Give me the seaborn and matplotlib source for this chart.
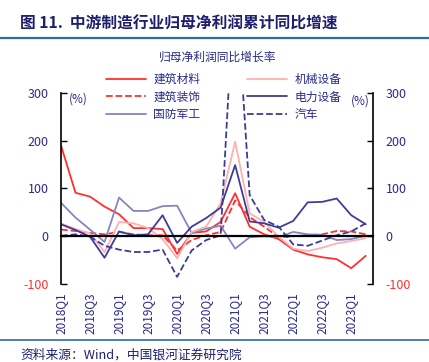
"""
图11 中游制造行业归母净利润累计同比增速 (2018Q1-2023Q2)
"""

import numpy as np
import pandas as pd
import matplotlib
matplotlib.use("Agg")
import matplotlib.pyplot as plt
from matplotlib.lines import Line2D
import seaborn as sns

sns.set_theme(style="white")
plt.rcParams["font.family"] = ["Noto Sans CJK SC", "DejaVu Sans"]
plt.rcParams["axes.unicode_minus"] = False

# Data (%)
quarters = ["2018Q1", "2018Q2", "2018Q3", "2018Q4", "2019Q1", "2019Q2", "2019Q3", "2019Q4",
            "2020Q1", "2020Q2", "2020Q3", "2020Q4", "2021Q1", "2021Q2", "2021Q3", "2021Q4",
            "2022Q1", "2022Q2", "2022Q3", "2022Q4", "2023Q1", "2023Q2"]
jzcl = [190, 91, 83, 62, 46, 17, 17, 15, -37, 7, 10, 30, 90, 20, 4, -6, -28, -38, -44, -48, -67, -41]
jxsb = [27, 15, 6, -33, 30, 27, 17, -6, -46, 9, 20, 69, 198, 48, 30, -1, -26, -31, -24, -15, -10, -4]
jzzs = [14, 11, 7, 4, 9, 4, 2, 2, -30, -8, 2, 9, 75, 40, 20, -2, 0, 2, 4, 11, 10, 4]
dlsb = [25, 13, -1, -45, 10, 2, 4, 44, -14, 20, 38, 60, 149, 31, 27, 18, 32, 71, 72, 79, 44, 25]
gfjg = [70, 39, 14, -12, 81, 53, 53, 63, 64, 7, 16, 22, -26, -2, 0, -2, 9, 4, 3, -8, -6, 1]
qc = [1, 4, -1, -20, -28, -33, -33, -28, -85, -30, -8, 2, 555, 86, 34, 20, -17, -20, -9, 2, 10, 27]

yticks = [-100, 0, 100, 200, 300]

NAVY = "#2a2a8c"
RED = "#ff3030"
series = [
    ("建筑材料", jzcl, RED, "-"),
    ("建筑装饰", jzzs, RED, "--"),
    ("国防军工", gfjg, "#8585c2", "-"),
    ("机械设备", jxsb, "#ffb0b0", "-"),
    ("电力设备", dlsb, "#3d3d99", "-"),
    ("汽车", qc, "#3d3d99", "--"),
]

x = np.arange(len(quarters))

fig = plt.figure(figsize=(4.29, 3.62), dpi=100)
ax = fig.add_axes([0.1422, 0.2155, 0.7273, 0.5276])

for name, vals, color, ls in series:
    df = pd.DataFrame({"q": x, "v": vals})
    sns.lineplot(data=df, x="q", y="v", ax=ax, color=color, linestyle=ls,
                 linewidth=1.3, label=name)

ax.set_xlim(0, 21.5)
ax.set_ylim(-100, 300)
ax.set_xlabel("")
ax.set_ylabel("")

# y axes on both sides
ax.set_yticks(yticks)
ax.yaxis.set_ticks_position("both")
ax.tick_params(axis="y", direction="in", length=4, width=1, colors="black",
               labelsize=9, pad=9, labelleft=True, labelright=True)
for t, v in zip(ax.yaxis.get_major_ticks(), yticks):
    c = RED if v < 0 else NAVY
    t.label1.set_color(c)
    t.label2.set_color(c)

for s in ["left", "right"]:
    ax.spines[s].set_visible(True)
    ax.spines[s].set_color("black")
    ax.spines[s].set_linewidth(1.2)
ax.spines["top"].set_visible(False)

# zero line carries quarter ticks
ax.spines["bottom"].set_position(("data", 0))
ax.spines["bottom"].set_color("black")
ax.spines["bottom"].set_linewidth(1.6)
ax.set_xticks(x)
ax.tick_params(axis="x", direction="in", length=4, width=1, labelbottom=False)

# quarter labels below the plot
sec = ax.secondary_xaxis("bottom")
sec.spines["bottom"].set_visible(False)
sec.set_xticks(x[::2], quarters[::2])
sec.tick_params(axis="x", length=0, pad=6, labelsize=8.5, labelcolor=NAVY,
                labelrotation=90)

ax.text(0.025, 1.005, "(%)", transform=ax.transAxes, fontsize=8.5, color=NAVY,
        va="top", ha="left")
ax.text(0.99, 0.99, "(%)", transform=ax.transAxes, fontsize=8.5, color=NAVY,
        va="top", ha="right")

leg = ax.legend(ncol=2, loc="upper left", bbox_to_anchor=(0.222, 0.828),
                bbox_transform=fig.transFigure, frameon=False, fontsize=8.5,
                handlelength=3.4, columnspacing=4.0, labelspacing=0.38,
                handletextpad=0.6)
for t in leg.get_texts():
    t.set_color(NAVY)

# header / footer
fig.text(0.047, 0.934, "图 11.  中游制造行业归母净利润累计同比增速", fontsize=11.3,
         fontweight="bold", color="#1f1f70", va="center", ha="left")
fig.add_artist(Line2D([0, 1], [0.895, 0.895], color="#2e6da4", linewidth=1.6))
fig.text(0.508, 0.843, "归母净利润同比增长率", fontsize=8.5, color=NAVY,
         va="center", ha="center")
fig.add_artist(Line2D([0, 1], [0.06, 0.06], color="#2e6da4", linewidth=1.2))
fig.text(0.047, 0.02, "资料来源：Wind，中国银河证券研究院", fontsize=9.2,
         style="italic", color="#1f1f70", va="center", ha="left")

fig.savefig("out.png", dpi=100)
